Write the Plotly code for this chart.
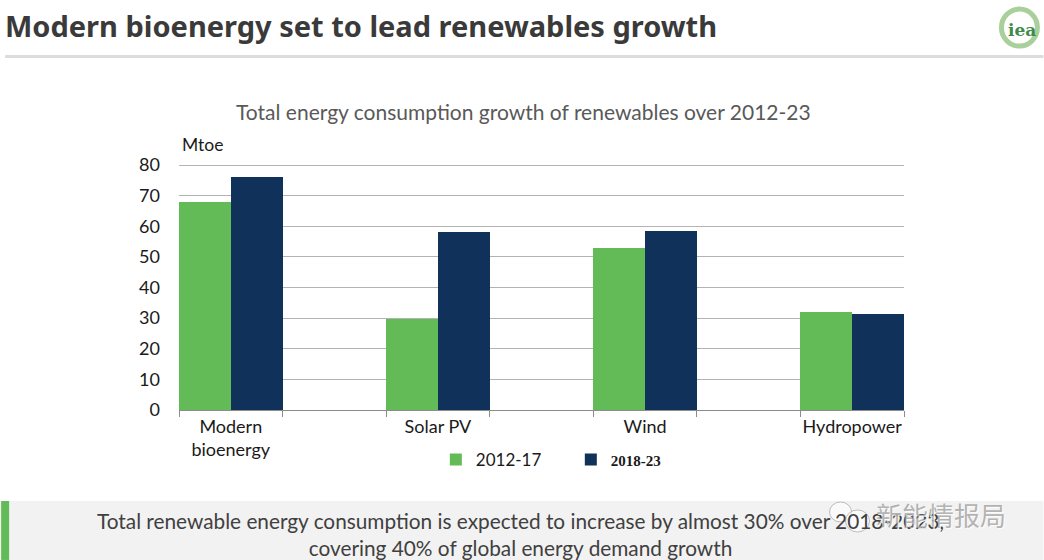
import plotly.graph_objects as go

W, H = 1044, 560
# the y range runs to 81 so that plotly keeps the gridline at 80; T is one unit above it
L, R, T, B = 179, 904.5, 161.94, 410

categories = ["Modern<br>bioenergy", " ", "Solar PV", "  ", "Wind", "   ", "Hydropower"]
values_2012_17 = [68, None, 29.7, None, 52.8, None, 32]
values_2018_23 = [76, None, 58, None, 58.5, None, 31.5]
y_ticks = [0, 10, 20, 30, 40, 50, 60, 70, 80]


def px_x(x):
    return (x - L) / (R - L)


def px_y(y):
    return (B - y) / (B - T)


def label(text, x, y, size, color, family="Lato", anchor="center", **kw):
    fig.add_annotation(text=text, xref="paper", yref="paper", x=px_x(x), y=px_y(y),
                       xanchor=anchor, yanchor="middle", showarrow=False,
                       font=dict(family=family, size=size, color=color), **kw)


def box(x0, y0, x1, y1, color, kind="rect", **kw):
    fig.add_shape(type=kind, xref="paper", yref="paper", x0=px_x(x0), x1=px_x(x1),
                  y0=px_y(y0), y1=px_y(y1), fillcolor=color, line_width=0, layer="below", **kw)


fig = go.Figure()
fig.add_trace(go.Bar(x=categories, y=values_2012_17, name="2012-17", marker=dict(color="#62bb56", line_width=0)))
fig.add_trace(go.Bar(x=categories, y=values_2018_23,
                     name='<span style="font-family:Liberation Serif;font-size:15px"><b>2018-23</b></span>',
                     marker=dict(color="#10315a", line_width=0)))

# slide furniture
box(5, 55, 1044, 58, "#dcdcdc")
box(0, 501, 1044, 560, "#f2f2f2")
box(1, 501, 9, 560, "#62bb56")
fig.add_shape(type="circle", xref="paper", yref="paper", x0=px_x(1002), x1=px_x(1038),
              y0=px_y(9), y1=px_y(46), fillcolor="white", line=dict(color="#a9cf9a", width=5))

label("<b>Modern bioenergy set to lead renewables growth</b>", 3, 25, 29, "#3a3a3a", "Noto Sans", "left")
label("<b>iea</b>", 1023, 30, 17, "#3f8a4a", "DejaVu Serif")
label("Total energy consumption growth of renewables over 2012-23", 524, 111, 21, "#595959")
label("Mtoe", 180, 144, 17.5, "#1a1a1a", anchor="left")
label("Total renewable energy consumption is expected to increase by almost 30% over 2018-2023,<br>covering 40% of global energy demand growth",
      521, 534, 20.8, "#404040")

# watermark over the caption
fig.add_shape(type="circle", xref="paper", yref="paper", x0=px_x(830), x1=px_x(852), y0=px_y(502), y1=px_y(522),
              fillcolor="rgba(255,255,255,0.6)", line=dict(color="rgba(150,150,150,0.6)", width=1))
fig.add_shape(type="circle", xref="paper", yref="paper", x0=px_x(846), x1=px_x(870), y0=px_y(510), y1=px_y(532),
              fillcolor="rgba(255,255,255,0.6)", line=dict(color="rgba(150,150,150,0.6)", width=1))
label("新能情报局", 942.5, 516, 26, "rgba(255,255,255,0.85)", "Noto Sans CJK SC")
label("新能情报局", 941.5, 515, 26, "rgba(110,110,110,0.5)", "Noto Sans CJK SC")

fig.update_layout(
    width=W, height=H, autosize=False,
    margin=dict(l=L, r=W - R, t=T, b=H - B, pad=0),
    paper_bgcolor="white", plot_bgcolor="white",
    barmode="group", bargap=0, bargroupgap=0,
    showlegend=True,
    legend=dict(orientation="h", x=px_x(436), y=px_y(460), xanchor="left", yanchor="middle",
                font=dict(family="Lato", size=17, color="#1a1a1a"), itemwidth=30,
                entrywidth=90, entrywidthmode="pixels", bgcolor="rgba(0,0,0,0)"),
    font=dict(family="Lato"),
)
fig.update_xaxes(type="category", categoryorder="array", categoryarray=categories, tickson="boundaries",
                 ticks="outside", ticklen=6, tickcolor="#8c8c8c", linecolor="#8c8c8c", linewidth=1,
                 showgrid=False, tickangle=0, tickfont=dict(family="Lato", size=18, color="#1a1a1a"))
fig.update_yaxes(range=[0, 81], tickvals=y_ticks, showline=False, gridcolor="#b3b3b3", gridwidth=1,
                 zeroline=False, ticks="", ticklabelstandoff=18,
                 tickfont=dict(family="Lato", size=18, color="#1a1a1a"))

fig.write_html("out.html", config=dict(displayModeBar=False), post_script="document.body.style.margin='0';")
